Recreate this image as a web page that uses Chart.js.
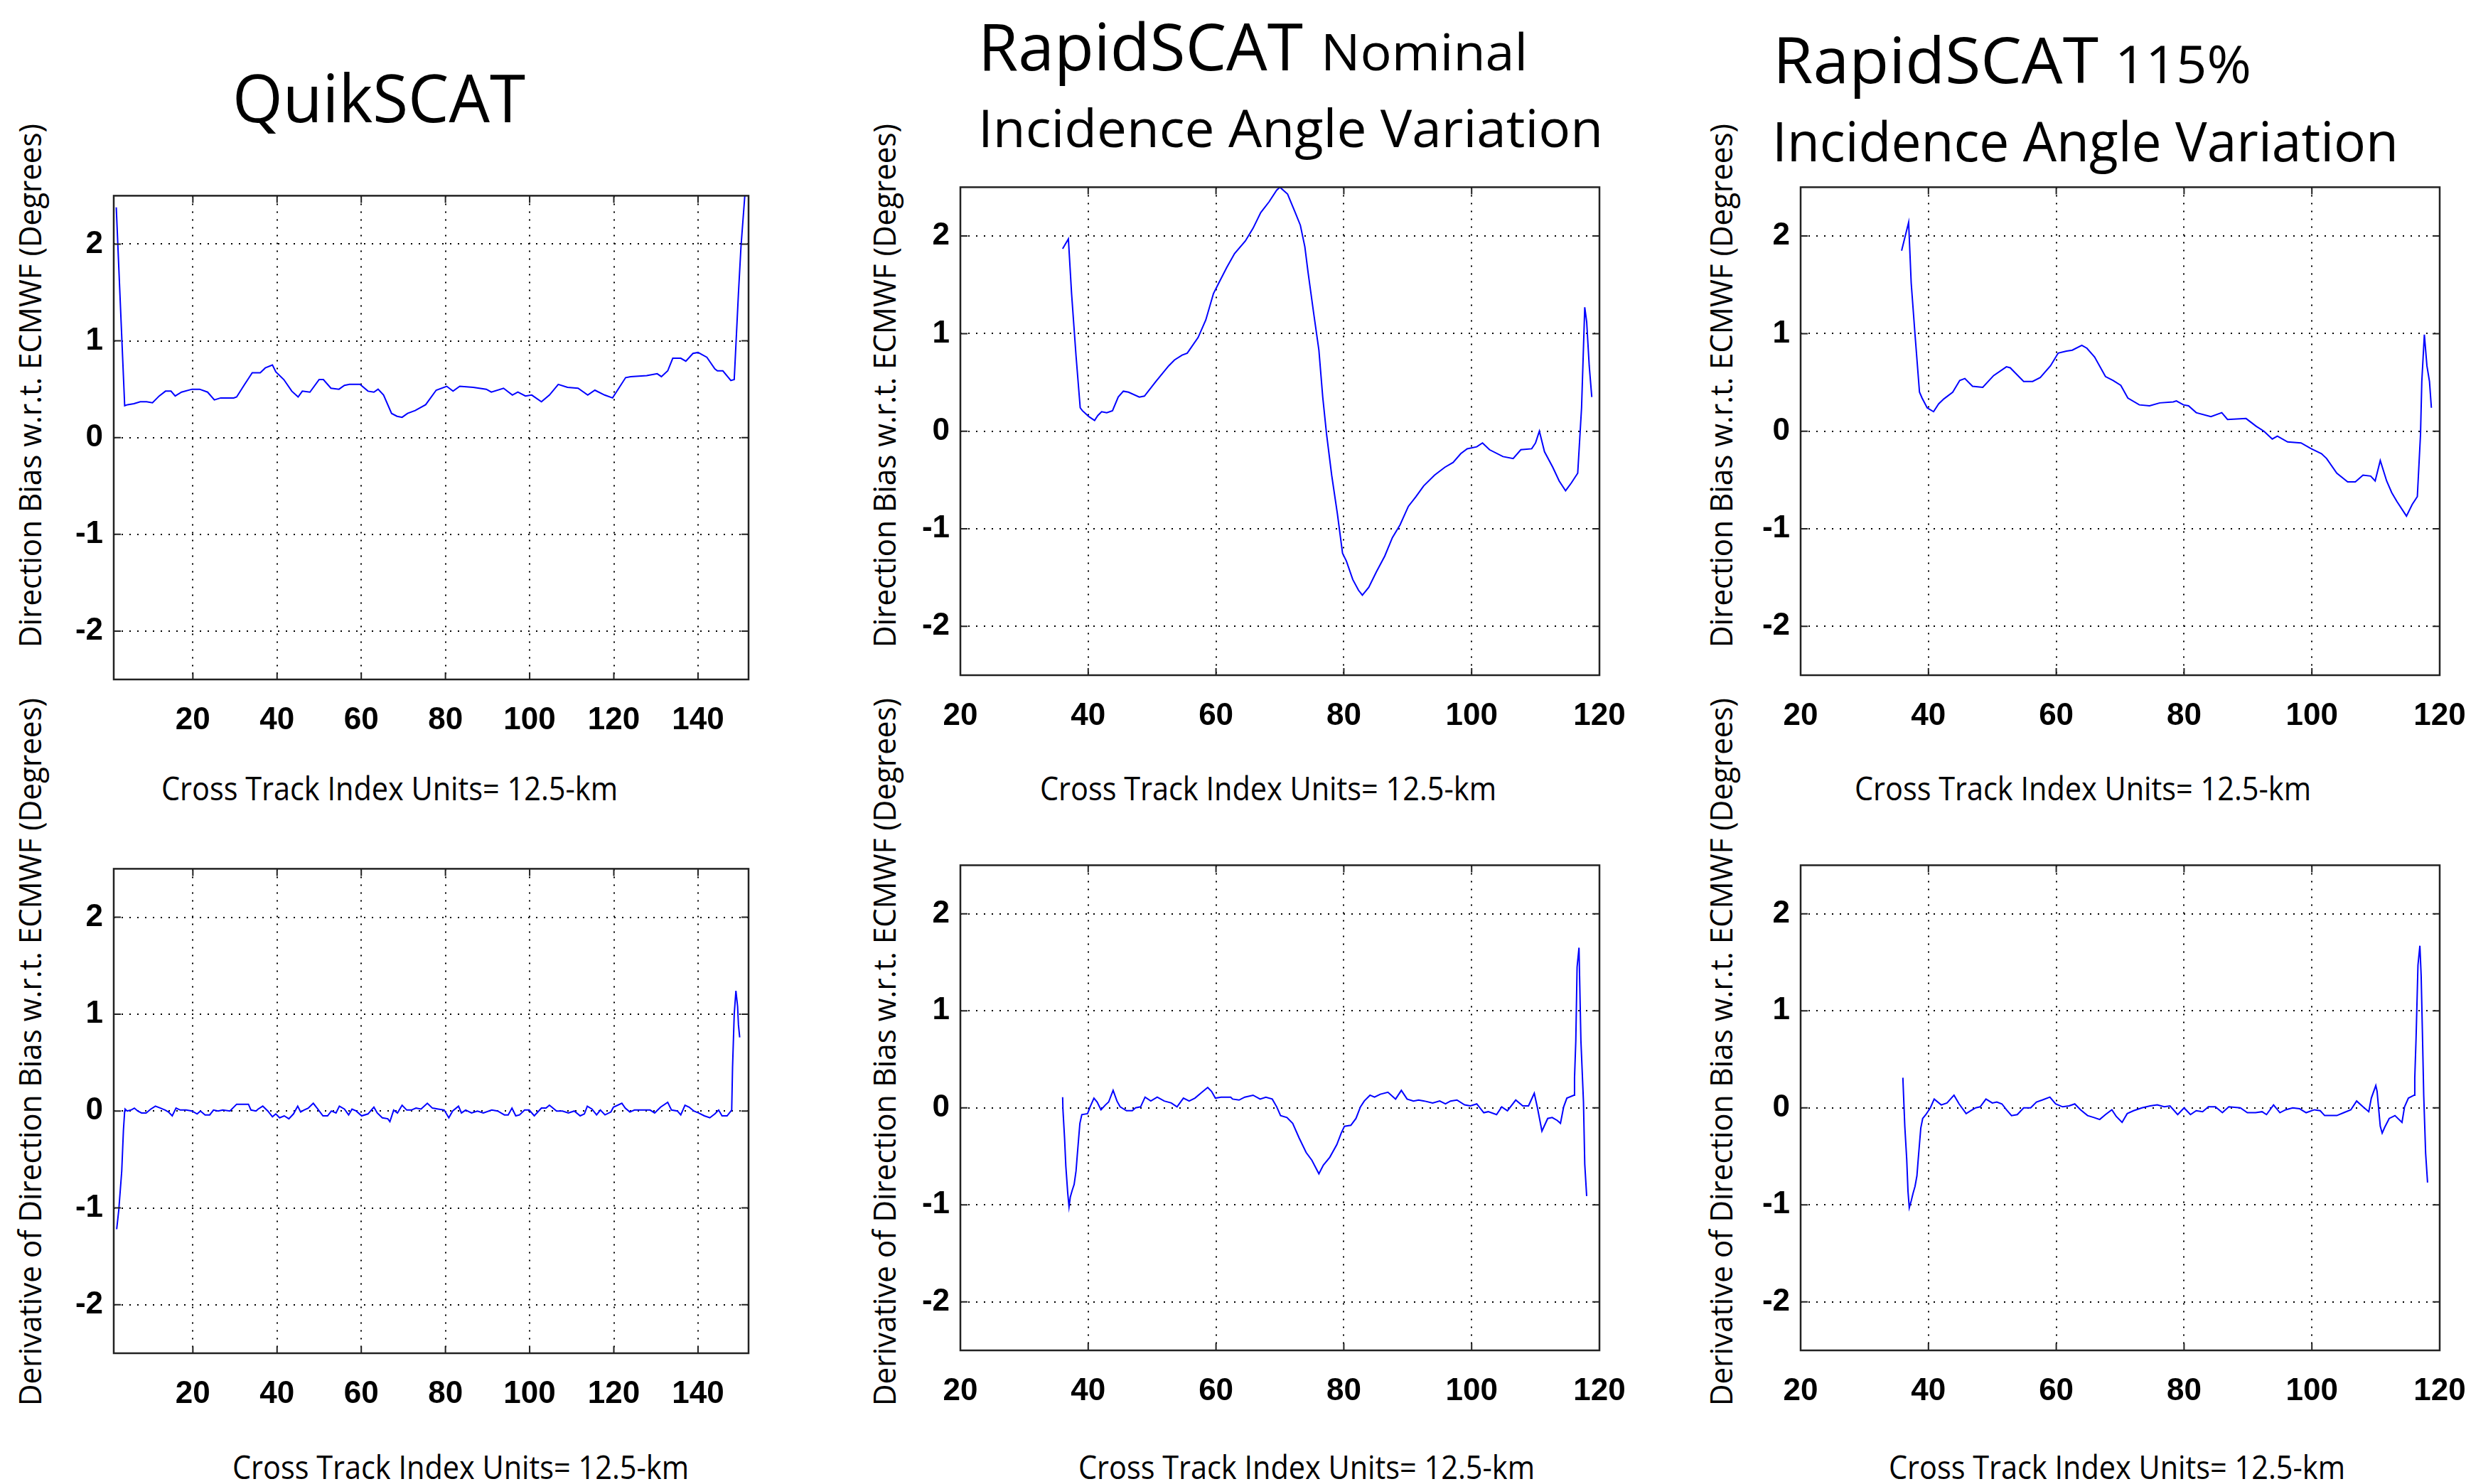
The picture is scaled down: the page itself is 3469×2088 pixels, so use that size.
<!DOCTYPE html>
<html>
<head>
    <meta charset="utf-8"/>
    <title>Direction Bias vs Cross Track Index</title>
    <script src="https://cdn.jsdelivr.net/npm/chart.js"></script>
    <style>
        body { margin: 0; background: #fff; }
        #page { position: relative; width: 3469px; height: 2088px; overflow: hidden; background: #fff; }
        #page canvas { position: absolute; }
        #labels { position: absolute; left: 0; top: 0; }
        #labels text { font-family: "Open Sans", "Noto Sans", sans-serif; fill: #000; }
    </style>
</head>
<body>
<div id="page">
    <svg id="labels" width="3469" height="2088">
        <!-- Titles -->
        <text x="327" y="172" font-size="94" textLength="412" lengthAdjust="spacingAndGlyphs">QuikSCAT</text>
        <text x="1376" y="99" font-size="92" textLength="457" lengthAdjust="spacingAndGlyphs">RapidSCAT</text>
        <text x="1858" y="99" font-size="72" textLength="291" lengthAdjust="spacingAndGlyphs">Nominal</text>
        <text x="1376" y="207" font-size="73" textLength="879" lengthAdjust="spacingAndGlyphs">Incidence Angle Variation</text>
        <text x="2494" y="117" font-size="90" textLength="458" lengthAdjust="spacingAndGlyphs">RapidSCAT</text>
        <text x="2975" y="117" font-size="74" textLength="192" lengthAdjust="spacingAndGlyphs">115%</text>
        <text x="2493" y="227" font-size="77" textLength="881" lengthAdjust="spacingAndGlyphs">Incidence Angle Variation</text>

        <!-- X axis labels -->
        <text x="227" y="1126" font-size="46" textLength="642" lengthAdjust="spacingAndGlyphs">Cross Track Index Units= 12.5-km</text>
        <text x="1463" y="1126" font-size="46" textLength="642" lengthAdjust="spacingAndGlyphs">Cross Track Index Units= 12.5-km</text>
        <text x="2609" y="1126" font-size="46" textLength="642" lengthAdjust="spacingAndGlyphs">Cross Track Index Units= 12.5-km</text>
        <text x="327" y="2081" font-size="46" textLength="642" lengthAdjust="spacingAndGlyphs">Cross Track Index Units= 12.5-km</text>
        <text x="1517" y="2081" font-size="46" textLength="642" lengthAdjust="spacingAndGlyphs">Cross Track Index Units= 12.5-km</text>
        <text x="2657" y="2081" font-size="46" textLength="642" lengthAdjust="spacingAndGlyphs">Cross Track Index Units= 12.5-km</text>

        <!-- Y axis labels -->
        <text transform="translate(58,911) rotate(-90)" font-size="44" textLength="737" lengthAdjust="spacingAndGlyphs">Direction Bias w.r.t. ECMWF (Degrees)</text>
        <text transform="translate(1260,911) rotate(-90)" font-size="44" textLength="737" lengthAdjust="spacingAndGlyphs">Direction Bias w.r.t. ECMWF (Degrees)</text>
        <text transform="translate(2437,911) rotate(-90)" font-size="44" textLength="737" lengthAdjust="spacingAndGlyphs">Direction Bias w.r.t. ECMWF (Degrees)</text>
        <text transform="translate(58,1978) rotate(-90)" font-size="44" textLength="996" lengthAdjust="spacingAndGlyphs">Derivative of Direction Bias w.r.t. ECMWF (Degrees)</text>
        <text transform="translate(1260,1978) rotate(-90)" font-size="44" textLength="996" lengthAdjust="spacingAndGlyphs">Derivative of Direction Bias w.r.t. ECMWF (Degrees)</text>
        <text transform="translate(2437,1978) rotate(-90)" font-size="44" textLength="996" lengthAdjust="spacingAndGlyphs">Derivative of Direction Bias w.r.t. ECMWF (Degrees)</text>
    </svg>
</div>

<script>
    // Tick labels
    const qsXTicks = [20, 40, 60, 80, 100, 120, 140];
    const rsXTicks = [20, 40, 60, 80, 100, 120];
    const yTicks = [-2, -1, 0, 1, 2];

    // QuikSCAT: direction bias [cross track index, degrees]
    const qsBias = [
        [1.8, 2.38], [2.4, 1.76], [3.8, 0.33], [4.5, 0.34], [6, 0.35], [7.5, 0.37], [9, 0.37], [10.4, 0.36],
        [12, 0.43], [13.5, 0.48], [14.8, 0.48], [15.8, 0.43], [17.3, 0.47], [19.8, 0.5], [21.6, 0.5],
        [23.5, 0.47], [25.1, 0.39], [26.6, 0.41], [29.7, 0.41], [30.4, 0.42], [32.3, 0.55], [34.1, 0.67],
        [36, 0.67], [37.2, 0.72], [38.9, 0.75], [39.7, 0.68], [41.6, 0.6], [43.5, 0.48], [45, 0.42],
        [46, 0.48], [47.8, 0.47], [50, 0.6], [51, 0.6], [52.8, 0.51], [54.7, 0.5], [56, 0.54], [57.2, 0.55],
        [59.7, 0.55], [61.6, 0.48], [63, 0.47], [64, 0.5], [65.3, 0.44], [67.2, 0.25], [68.5, 0.22],
        [69.7, 0.21], [71, 0.25], [72.8, 0.28], [75.3, 0.34], [77.8, 0.49], [80.3, 0.53], [81.8, 0.48],
        [83.4, 0.53], [86.6, 0.52], [89.7, 0.5], [90.9, 0.47], [93.8, 0.51], [95.9, 0.44], [97.2, 0.47],
        [99, 0.43], [100.5, 0.44], [102.8, 0.37], [104.7, 0.44], [106.8, 0.55], [109, 0.52], [111.5, 0.51],
        [113.8, 0.44], [115.5, 0.49], [117.8, 0.44], [119.7, 0.41], [122.8, 0.62], [124, 0.63], [127.8, 0.64],
        [130.3, 0.66], [131.3, 0.63], [132.8, 0.69], [134, 0.82], [135.9, 0.82], [137.1, 0.79], [138.8, 0.87],
        [140, 0.88], [142.1, 0.83], [144, 0.71], [144.6, 0.69], [145.9, 0.69], [147.8, 0.59], [148.6, 0.6],
        [149.6, 1.49], [150.2, 1.97], [151.2, 2.55], [151.6, 2.8]
    ];

    // QuikSCAT: derivative of direction bias
    const qsDeriv = [
        [1.9, -1.22], [2.4, -1.02], [3.1, -0.62], [3.5, -0.2], [3.8, 0.0], [3.9, 0.02], [4.4, 0.0], [5.3, 0.01],
        [6.1, 0.03], [6.9, 0.0], [7.8, -0.02], [8.9, -0.02], [10, 0.02], [11.1, 0.05], [12.3, 0.03], [13.4, 0.01],
        [14.2, -0.01], [15.1, -0.05], [16, 0.03], [17, 0.01], [18.4, 0.01], [19.8, 0.0], [21, -0.03], [21.8, 0.0],
        [22.9, -0.04], [24, -0.04], [24.9, 0.01], [26, 0.0], [27.1, 0.01], [28.8, 0.0], [30.4, 0.07], [33.2, 0.07],
        [33.8, 0.01], [35, 0.0], [35.5, 0.02], [36.6, 0.05], [37.8, 0.0], [38.9, -0.06], [39.7, -0.03], [40.6, -0.07],
        [41.7, -0.05], [42.8, -0.08], [43.9, -0.03], [44.9, 0.05], [45.6, -0.01], [46.4, 0.01], [47.4, 0.03],
        [48.6, 0.08], [49.5, 0.03], [50.9, -0.05], [52, -0.05], [52.9, 0.0], [54, -0.02], [54.8, 0.05], [56, 0.02],
        [57, -0.04], [57.8, 0.02], [58.8, 0.0], [60.1, -0.05], [61.6, -0.03], [63, 0.04], [63.8, -0.02], [65, -0.07],
        [66.3, -0.08], [66.8, -0.11], [67.7, 0.01], [68.6, -0.02], [69.7, 0.06], [70.8, 0.01], [71.9, 0.01],
        [73, 0.03], [74.2, 0.02], [75.7, 0.08], [76.9, 0.03], [78.3, 0.02], [79.7, 0.01], [80.8, -0.07], [81.7, 0.0],
        [83.1, 0.05], [83.8, -0.02], [84.8, 0.01], [86.2, -0.02], [87.6, 0.0], [89, -0.02], [91, 0.01], [92.4, 0.0],
        [94, -0.04], [94.9, -0.04], [95.8, 0.03], [96.7, -0.05], [97.6, -0.04], [98.8, 0.01], [99.9, 0.01],
        [101.1, -0.05], [102.8, 0.03], [103.9, 0.03], [104.7, 0.06], [106.4, 0.0], [107.8, 0.0], [109.2, -0.02],
        [110.6, 0.0], [112, -0.05], [113, -0.03], [113.7, 0.05], [114.8, 0.02], [115.9, -0.04], [116.8, 0.01],
        [117.9, -0.04], [119.3, -0.01], [119.9, 0.04], [121.9, 0.08], [122.7, 0.03], [123.8, -0.01], [124.9, 0.01],
        [126.3, 0.01], [128.6, 0.01], [129.7, -0.02], [131.1, 0.04], [132.8, 0.09], [133.7, 0.01], [135.1, 0.0],
        [135.9, -0.04], [136.9, 0.06], [137.9, 0.04], [139, 0.0], [140.1, -0.02], [141.5, -0.05], [142.8, -0.07],
        [144, -0.03], [144.9, 0.01], [145.7, -0.05], [146.9, -0.05], [148, 0.01], [148.2, 0.45], [148.6, 1.0],
        [149, 1.24], [149.4, 1.08], [149.6, 0.89], [149.9, 0.76]
    ];

    // RapidSCAT nominal incidence angle variation: direction bias
    const rsNomBias = [
        [36, 1.87], [36.9, 1.97], [37.4, 1.41], [38.1, 0.77], [38.75, 0.24], [39.1, 0.21], [40.1, 0.15], [41, 0.11],
        [41.5, 0.16], [42.1, 0.2], [42.9, 0.19], [43.8, 0.21], [44.7, 0.35], [45.5, 0.41], [46.3, 0.4], [48, 0.35],
        [48.8, 0.36], [50.6, 0.51], [52.6, 0.67], [53.5, 0.73], [54.7, 0.78], [55.5, 0.8], [57.2, 0.96], [58.4, 1.14],
        [59.6, 1.41], [60.6, 1.54], [61.7, 1.68], [62.9, 1.82], [64.6, 1.95], [65.8, 2.08], [67, 2.24], [68.3, 2.35],
        [69.5, 2.47], [70, 2.5], [71.2, 2.43], [72.4, 2.24], [73.2, 2.11], [73.9, 1.89], [74.4, 1.63], [75.3, 1.2],
        [76.1, 0.83], [76.7, 0.35], [77.3, -0.03], [78.1, -0.45], [79, -0.85], [79.8, -1.25], [80.4, -1.33],
        [81.4, -1.52], [82.3, -1.63], [82.9, -1.68], [83.9, -1.6], [85.1, -1.44], [86.4, -1.28], [87.6, -1.09],
        [88.8, -0.96], [90.1, -0.77], [91.3, -0.67], [92.5, -0.56], [94.2, -0.45], [95.8, -0.37], [97.1, -0.32],
        [98.3, -0.23], [99.3, -0.18], [100.8, -0.16], [101.7, -0.12], [102.8, -0.19], [104.9, -0.26], [106.5, -0.28],
        [107.7, -0.19], [109.4, -0.18], [110, -0.12], [110.6, 0], [111.4, -0.21], [112.7, -0.37], [113.7, -0.51],
        [114.7, -0.61], [115.6, -0.53], [116.6, -0.43], [117.2, 0.24], [117.7, 1.27], [118, 1.12], [118.4, 0.67],
        [118.8, 0.35]
    ];

    // RapidSCAT nominal: derivative of direction bias
    const rsNomDeriv = [
        [36, 0.11], [36.05, -0.02], [36.3, -0.31], [36.5, -0.6], [36.8, -0.88], [37, -1.02], [37.2, -0.92],
        [37.5, -0.85], [37.8, -0.79], [38.1, -0.65], [38.3, -0.48], [38.5, -0.32], [38.7, -0.16], [39, -0.07],
        [39.9, -0.06], [40.3, 0.01], [40.9, 0.1], [41.4, 0.06], [42, -0.02], [42.7, 0.03], [43.2, 0.06], [43.9, 0.18],
        [44.5, 0.07], [45, 0.01], [46, -0.03], [46.9, -0.03], [47.4, 0], [48.2, 0.01], [48.9, 0.11], [49.8, 0.07],
        [50.8, 0.11], [51.9, 0.07], [53, 0.05], [53.9, 0.01], [54.9, 0.1], [55.8, 0.07], [56.7, 0.1], [57.6, 0.15],
        [58.7, 0.21], [59.3, 0.17], [59.9, 0.1], [60.8, 0.11], [62.3, 0.11], [62.6, 0.09], [63.6, 0.08], [64.5, 0.11],
        [65.8, 0.13], [66.9, 0.09], [67.8, 0.11], [68.8, 0.09], [69.5, 0.01], [70.1, -0.08], [71.1, -0.1], [72, -0.16],
        [73, -0.31], [74.1, -0.46], [75, -0.54], [76.1, -0.68], [76.8, -0.59], [77.8, -0.51], [78.9, -0.38],
        [79.6, -0.26], [80.1, -0.19], [81.1, -0.18], [81.9, -0.11], [82.6, 0.01], [83.2, 0.07], [84.1, 0.13],
        [84.8, 0.11], [85.7, 0.14], [86.9, 0.16], [88.1, 0.09], [89, 0.18], [89.9, 0.09], [90.9, 0.07], [91.7, 0.08],
        [92.6, 0.07], [93.9, 0.05], [95, 0.07], [95.9, 0.04], [96.7, 0.07], [97.7, 0.08], [98.9, 0.03], [99.8, 0.02],
        [100.8, 0.04], [101.9, -0.05], [102.6, -0.04], [103.9, -0.07], [104.7, 0.01], [105.6, -0.03], [106.9, 0.08],
        [108, 0.02], [108.9, 0.02], [109.8, 0.15], [110.3, 0], [111, -0.24], [111.9, -0.11], [112.6, -0.1],
        [113.4, -0.13], [113.9, -0.16], [114.4, 0.01], [114.9, 0.1], [116, 0.13], [116.1, 0.31], [116.3, 0.69],
        [116.5, 1.45], [116.8, 1.65], [117.1, 0.69], [117.5, 0.06], [117.7, -0.58], [118, -0.91]
    ];

    // RapidSCAT 115% incidence angle variation: direction bias
    const rs115Bias = [
        [35.8, 1.85], [36.9, 2.14], [37.3, 1.52], [37.9, 0.99], [38.6, 0.4], [39, 0.34], [39.8, 0.24], [40.8, 0.2],
        [41.6, 0.28], [42.4, 0.33], [43.8, 0.4], [44.9, 0.52], [45.7, 0.54], [46.9, 0.46], [48.5, 0.45], [50.2, 0.57],
        [52.2, 0.66], [52.8, 0.65], [54.9, 0.51], [56.3, 0.51], [57.5, 0.55], [59.1, 0.67], [60.3, 0.8], [61.6, 0.82],
        [62.5, 0.83], [64, 0.88], [64.8, 0.85], [66, 0.76], [67.7, 0.56], [68.9, 0.52], [70.1, 0.47], [71.2, 0.34],
        [73, 0.27], [74.6, 0.26], [76.2, 0.29], [78.3, 0.3], [78.8, 0.31], [79.9, 0.27], [80.7, 0.26], [81.9, 0.19],
        [84.2, 0.15], [85.9, 0.19], [86.8, 0.12], [89.7, 0.13], [91.3, 0.05], [92.5, 0], [93.8, -0.08], [94.6, -0.05],
        [96.2, -0.11], [98.3, -0.12], [99.9, -0.18], [101.5, -0.23], [102.3, -0.28], [103.9, -0.43], [105.6, -0.52],
        [106.8, -0.52], [108, -0.45], [109.2, -0.46], [109.9, -0.51], [110.7, -0.3], [111.7, -0.51], [112.5, -0.63],
        [113.3, -0.72], [114.8, -0.87], [115.7, -0.75], [116.5, -0.67], [117, -0.03], [117.2, 0.51], [117.6, 0.99],
        [118, 0.67], [118.4, 0.51], [118.7, 0.24]
    ];

    // RapidSCAT 115%: derivative of direction bias
    const rs115Deriv = [
        [36, 0.31], [36.1, 0.14], [36.3, -0.19], [36.6, -0.53], [36.8, -0.86], [37, -1.03], [37.3, -0.96],
        [37.6, -0.88], [37.9, -0.81], [38.2, -0.7], [38.4, -0.53], [38.6, -0.37], [38.8, -0.21], [39.1, -0.11],
        [39.6, -0.07], [40.3, 0], [40.9, 0.09], [42, 0.03], [42.9, 0.05], [44, 0.13], [44.8, 0.04], [45.9, -0.06],
        [46.6, -0.03], [47.4, 0], [48.1, 0.01], [49, 0.09], [50, 0.05], [50.7, 0.06], [51.5, 0.04], [52.2, -0.02],
        [53, -0.08], [53.9, -0.07], [54.9, 0], [56, 0], [56.9, 0.06], [57.8, 0.08], [59, 0.11], [59.9, 0.04],
        [61, 0.01], [62, 0.02], [62.9, 0.04], [63.8, -0.02], [64.9, -0.08], [65.9, -0.1], [66.8, -0.12], [67.7, -0.07],
        [68.7, -0.02], [69.4, -0.09], [70.3, -0.15], [71.1, -0.06], [72.1, -0.03], [73.4, 0], [74.7, 0.02],
        [75.8, 0.03], [76.9, 0.01], [77.8, 0.02], [79, -0.07], [80, 0], [81, -0.07], [81.9, -0.03], [82.9, -0.04],
        [83.8, 0.01], [84.9, 0.01], [86, -0.05], [87, 0.01], [88.8, 0], [89.9, -0.05], [91.2, -0.05], [92.2, -0.04],
        [92.9, -0.07], [94, 0.03], [95, -0.05], [95.9, -0.02], [97, 0], [98.1, -0.01], [99.1, -0.05], [100.4, -0.02],
        [101.3, -0.03], [102, -0.08], [103.9, -0.08], [105, -0.05], [106.1, -0.02], [107, 0.07], [108, 0.01],
        [108.9, -0.04], [109.3, 0.1], [110, 0.23], [110.2, 0.17], [110.7, -0.19], [111, -0.26], [111.4, -0.2],
        [112.1, -0.11], [113, -0.08], [114.1, -0.15], [114.5, 0.01], [115.1, 0.1], [116, 0.13], [116.1, 0.31],
        [116.3, 0.71], [116.6, 1.47], [116.9, 1.67], [117.1, 1.36], [117.3, 0.76], [117.5, 0.13], [117.8, -0.47],
        [118.1, -0.77]
    ];

    // plot boxes on the page: [left, top, right, bottom]
    const panels = [
        { box: [160, 274, 1053, 956],  xMin: 1.2, xMax: 152, xTicks: qsXTicks, data: qsBias },
        { box: [1351, 262, 2250, 950], xMin: 20,  xMax: 120, xTicks: rsXTicks, data: rsNomBias },
        { box: [2533, 262, 3432, 950], xMin: 20,  xMax: 120, xTicks: rsXTicks, data: rs115Bias },
        { box: [160, 1221, 1053, 1904], xMin: 1.2, xMax: 152, xTicks: qsXTicks, data: qsDeriv },
        { box: [1351, 1216, 2250, 1900], xMin: 20, xMax: 120, xTicks: rsXTicks, data: rsNomDeriv },
        { box: [2533, 1216, 3432, 1900], xMin: 20, xMax: 120, xTicks: rsXTicks, data: rs115Deriv }
    ];

    // frame and inward tick marks, like the old matlab style
    const framePlugin = {
        id: 'frame',
        afterDraw(chart) {
            const { ctx, chartArea: a, scales: { x, y } } = chart;
            ctx.save();
            ctx.strokeStyle = '#222';
            ctx.lineWidth = 2;
            ctx.beginPath();
            x.ticks.forEach(t => {
                const px = x.getPixelForValue(t.value);
                ctx.moveTo(px, a.bottom); ctx.lineTo(px, a.bottom - 10);
                ctx.moveTo(px, a.top); ctx.lineTo(px, a.top + 10);
            });
            y.ticks.forEach(t => {
                const py = y.getPixelForValue(t.value);
                ctx.moveTo(a.left, py); ctx.lineTo(a.left + 10, py);
                ctx.moveTo(a.right, py); ctx.lineTo(a.right - 10, py);
            });
            ctx.stroke();
            ctx.lineWidth = 2.5;
            ctx.strokeRect(a.left, a.top, a.right - a.left, a.bottom - a.top);
            ctx.restore();
        }
    };

    const L = 130, T = 40, R = 100, B = 90;
    const tickFont = { family: 'Liberation Sans', size: 44, weight: 'bold' };

    panels.forEach(p => {
        const [left, top, right, bottom] = p.box;
        const canvas = document.createElement('canvas');
        const w = right - left + L + R;
        const h = bottom - top + T + B;
        canvas.width = w;
        canvas.height = h;
        canvas.style.width = w + 'px';
        canvas.style.height = h + 'px';
        canvas.style.left = (left - L) + 'px';
        canvas.style.top = (top - T) + 'px';
        document.getElementById('page').appendChild(canvas);

        new Chart(canvas.getContext('2d'), {
            type: 'scatter',
            data: {
                datasets: [{
                    data: p.data.map(d => ({ x: d[0], y: d[1] })),
                    showLine: true,
                    borderColor: '#0000ff',
                    borderWidth: 2,
                    pointRadius: 0,
                    tension: 0
                }]
            },
            options: {
                responsive: false,
                animation: false,
                devicePixelRatio: 1,
                layout: { padding: { left: 0, top: T, right: R, bottom: 0 } },
                plugins: { legend: { display: false }, tooltip: { enabled: false } },
                scales: {
                    x: {
                        type: 'linear',
                        min: p.xMin,
                        max: p.xMax,
                        afterBuildTicks: axis => { axis.ticks = p.xTicks.map(v => ({ value: v })); },
                        afterFit: axis => { axis.height = B; },
                        grid: { color: '#000', lineWidth: 2, drawTicks: false },
                        border: { display: false, dash: [2, 9] },
                        ticks: { color: '#000', font: tickFont, padding: 31, maxRotation: 0, autoSkip: false }
                    },
                    y: {
                        type: 'linear',
                        min: -2.5,
                        max: 2.5,
                        afterBuildTicks: axis => { axis.ticks = yTicks.map(v => ({ value: v })); },
                        afterFit: axis => { axis.width = L; },
                        grid: { color: '#000', lineWidth: 2, drawTicks: false },
                        border: { display: false, dash: [2, 9] },
                        ticks: { color: '#000', font: tickFont, padding: 15 }
                    }
                }
            },
            plugins: [framePlugin]
        });
    });
</script>
</body>
</html>
